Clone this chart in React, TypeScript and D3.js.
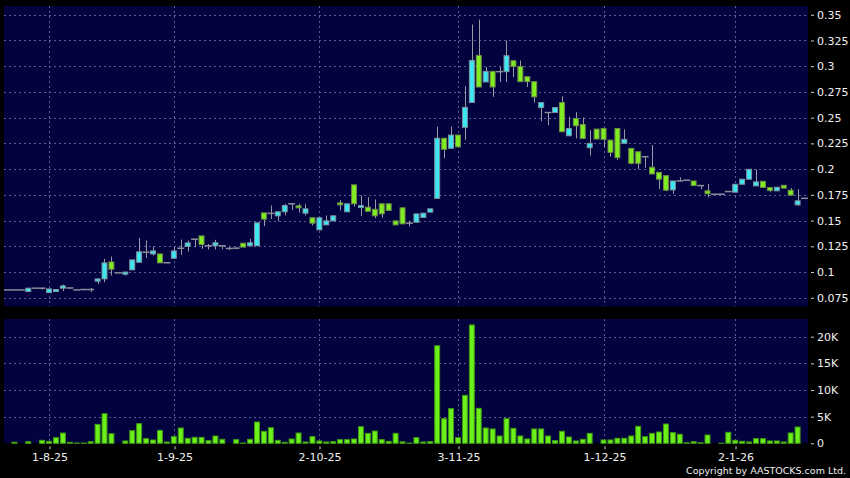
import { useRef, useEffect } from 'react'
import * as d3 from 'd3'

const W = 850
const H = 478
const PRICE_PANEL = { left: 4, right: 808, top: 6, bottom: 306.5 }
const VOL_PANEL = { left: 4, right: 808, top: 319, bottom: 443.3 }

// daily OHLC + volume, oldest first
const OPEN = [
  0.0826, 0.0826, 0.0826, 0.081, 0.0843, 0.0843, 0.08, 0.0817, 0.0843, 0.0845,
  0.0826, 0.083, 0.083, 0.0911, 0.0933, 0.1098, 0.0992, 0.0979, 0.1021, 0.1095,
  0.1192, 0.1176, 0.1176, 0.109, 0.1134, 0.1231, 0.125, 0.1319, 0.1351, 0.1255,
  0.1255, 0.1255, 0.1229, 0.1232, 0.128, 0.1255, 0.1255, 0.1575, 0.157, 0.1546,
  0.1585, 0.1663, 0.1643, 0.1572, 0.1527, 0.141, 0.1458, 0.1497, 0.1672, 0.1585,
  0.1847, 0.1627, 0.163, 0.161, 0.1663, 0.1663, 0.1497, 0.1624, 0.1475, 0.1484,
  0.153, 0.1582, 0.1716, 0.23, 0.2202, 0.2331, 0.2406, 0.2647, 0.3105, 0.2847,
  0.295, 0.2947, 0.2947, 0.3053, 0.2998, 0.2898, 0.285, 0.2598, 0.255, 0.255,
  0.2647, 0.2324, 0.2492, 0.2434, 0.2208, 0.2389, 0.2395, 0.2282, 0.2395, 0.225,
  0.2202, 0.2169, 0.2121, 0.2018, 0.1969, 0.1937, 0.1798, 0.1885, 0.1892, 0.1885,
  0.184, 0.1789, 0.1756, 0.1756, 0.1782, 0.1776, 0.1853, 0.1902, 0.1837, 0.1882,
  0.1821, 0.1789, 0.1843, 0.1795, 0.1653, 0.1716,
]
const CLOSE = [
  0.0826, 0.0826, 0.0826, 0.0843, 0.0843, 0.0843, 0.0836, 0.083, 0.0865, 0.0845,
  0.0826, 0.083, 0.083, 0.0933, 0.1089, 0.1027, 0.0992, 0.1, 0.1118, 0.1196,
  0.1192, 0.1205, 0.1089, 0.109, 0.1205, 0.1231, 0.1283, 0.1319, 0.1267, 0.1255,
  0.1284, 0.1255, 0.1229, 0.1232, 0.1242, 0.1284, 0.1478, 0.1514, 0.157, 0.1585,
  0.1646, 0.1663, 0.1624, 0.1614, 0.1475, 0.1527, 0.1497, 0.1546, 0.1653, 0.1663,
  0.1663, 0.1646, 0.159, 0.1546, 0.1565, 0.1598, 0.1458, 0.1468, 0.1475, 0.1565,
  0.1572, 0.1614, 0.23, 0.2192, 0.2331, 0.2217, 0.26, 0.3056, 0.2798, 0.295,
  0.2798, 0.2947, 0.3102, 0.2998, 0.285, 0.285, 0.2702, 0.2647, 0.255, 0.2598,
  0.2363, 0.2395, 0.2421, 0.2298, 0.225, 0.2292, 0.2289, 0.2163, 0.2111, 0.2289,
  0.2056, 0.2056, 0.2121, 0.1953, 0.1902, 0.1795, 0.1885, 0.1885, 0.1892, 0.184,
  0.184, 0.176, 0.1756, 0.1756, 0.1782, 0.1853, 0.1902, 0.1998, 0.1876, 0.1821,
  0.1792, 0.1824, 0.1815, 0.1747, 0.1692, 0.1716,
]
const HIGH = [
  0.0826, 0.0826, 0.0826, 0.0843, 0.0843, 0.0843, 0.0836, 0.083, 0.0878, 0.0845,
  0.0826, 0.083, 0.0845, 0.094, 0.1128, 0.115, 0.0992, 0.1, 0.1118, 0.1332,
  0.1306, 0.1247, 0.1176, 0.109, 0.1247, 0.1315, 0.1306, 0.1319, 0.1351, 0.1273,
  0.1313, 0.1255, 0.1245, 0.1236, 0.128, 0.1323, 0.1478, 0.1575, 0.1646, 0.1585,
  0.1662, 0.1663, 0.1663, 0.1663, 0.1527, 0.1527, 0.155, 0.1546, 0.17, 0.1663,
  0.1847, 0.1743, 0.1727, 0.1705, 0.1663, 0.1663, 0.1497, 0.1624, 0.15, 0.1565,
  0.1572, 0.1614, 0.2412, 0.23, 0.2412, 0.2331, 0.2807, 0.3405, 0.3453, 0.2992,
  0.295, 0.2992, 0.325, 0.3053, 0.3056, 0.2898, 0.285, 0.2647, 0.255, 0.2598,
  0.2708, 0.2508, 0.2553, 0.2502, 0.2379, 0.2389, 0.2395, 0.2282, 0.2395, 0.2385,
  0.2202, 0.2169, 0.2121, 0.2234, 0.1969, 0.1937, 0.1885, 0.192, 0.1892, 0.1885,
  0.184, 0.1856, 0.1756, 0.1756, 0.1782, 0.1853, 0.1902, 0.1998, 0.1998, 0.1882,
  0.1821, 0.1824, 0.1843, 0.1815, 0.1805, 0.1716,
]
const LOW = [
  0.0826, 0.0826, 0.0826, 0.0807, 0.0843, 0.083, 0.0797, 0.0817, 0.0814, 0.0835,
  0.0826, 0.083, 0.0805, 0.0885, 0.09, 0.0966, 0.0992, 0.0966, 0.1021, 0.1095,
  0.1137, 0.116, 0.1089, 0.109, 0.1134, 0.1167, 0.1199, 0.1241, 0.1225, 0.1219,
  0.1219, 0.1222, 0.1216, 0.1222, 0.1242, 0.1255, 0.1255, 0.1446, 0.1514, 0.1494,
  0.155, 0.1604, 0.1578, 0.155, 0.1452, 0.141, 0.1458, 0.1497, 0.1598, 0.1585,
  0.1637, 0.1543, 0.159, 0.1523, 0.1527, 0.1598, 0.1458, 0.1468, 0.1443, 0.1484,
  0.153, 0.1582, 0.1716, 0.2105, 0.2202, 0.2205, 0.2283, 0.2647, 0.2798, 0.2847,
  0.2702, 0.2847, 0.2847, 0.2895, 0.285, 0.2798, 0.2647, 0.2466, 0.2427, 0.255,
  0.2363, 0.2324, 0.2298, 0.2298, 0.2131, 0.2292, 0.2211, 0.2121, 0.2089, 0.225,
  0.2047, 0.2, 0.2014, 0.1953, 0.1805, 0.1785, 0.176, 0.1885, 0.1892, 0.184,
  0.1805, 0.1727, 0.1756, 0.1756, 0.1782, 0.1776, 0.1853, 0.1902, 0.1837, 0.1821,
  0.1776, 0.1789, 0.1815, 0.1747, 0.1643, 0.1716,
]
const VOLUME = [
  0, 200, 0, 300, 0, 560, 370, 1060, 1930, 190,
  50, 50, 300, 3550, 5550, 1800, 0, 440, 2370, 3680,
  870, 620, 2430, 250, 1250, 2870, 935, 1120, 1120, 500,
  1370, 750, 0, 690, 60, 750, 3990, 2240, 2930, 560,
  190, 810, 1930, 250, 1250, 440, 250, 310, 690, 690,
  810, 3120, 1870, 2300, 690, 370, 1870, 280, 50, 1060,
  250, 310, 18300, 4620, 6500, 1060, 9000, 22200, 6560, 2870,
  2690, 1370, 4620, 2810, 1370, 810, 2690, 2690, 1370, 500,
  2250, 1190, 440, 750, 1870, 0, 625, 625, 940, 940,
  1370, 3190, 1250, 1870, 2120, 3620, 2000, 1690, 100, 300,
  100, 1560, 0, 30, 2060, 560, 375, 250, 875, 875,
  440, 440, 250, 1940, 3060, 0,
]

const DATE_TICKS = [6, 24, 45, 65, 86, 105]
const DATE_LABELS = ['1-8-25', '1-9-25', '2-10-25', '3-11-25', '1-12-25', '2-1-26']
const PRICE_TICKS = [0.075, 0.1, 0.125, 0.15, 0.175, 0.2, 0.225, 0.25, 0.275, 0.3, 0.325, 0.35]
const PRICE_LABELS = ['0.075', '0.1', '0.125', '0.15', '0.175', '0.2', '0.225', '0.25', '0.275', '0.3', '0.325', '0.35']
const VOL_TICKS = [0, 5000, 10000, 15000, 20000]
const VOL_LABELS = ['0', '5K', '10K', '15K', '20K']

const FONT = 'DejaVu Sans, Verdana, sans-serif'
const UP = '#3ee6f2'
const DOWN = '#80ec22'
const GRID = '#5c5c92'

export default function App() {
  const svgRef = useRef<SVGSVGElement>(null)

  useEffect(() => {
    if (!svgRef.current) return
    const svg = d3.select(svgRef.current)
    svg.selectAll('*').remove()

    const idx = d3.range(OPEN.length)
    const x = d3.scaleBand<number>().domain(idx).range([PRICE_PANEL.left, PRICE_PANEL.right])
      .paddingInner(0.14).paddingOuter(0.07)
    const bw = x.bandwidth()
    const step = x.step()
    const cx = (i: number) => (x(i) ?? 0) + bw / 2

    const y = d3.scaleLinear().domain([0.0665, 0.3585]).range([PRICE_PANEL.bottom, PRICE_PANEL.top])
    const vy = d3.scaleLinear().domain([0, 23320]).range([VOL_PANEL.bottom, VOL_PANEL.top])

    svg.append('rect').attr('width', W).attr('height', H).attr('fill', '#000')

    for (const p of [PRICE_PANEL, VOL_PANEL]) {
      svg.append('rect')
        .attr('x', p.left).attr('y', p.top)
        .attr('width', p.right - p.left).attr('height', p.bottom - p.top)
        .attr('fill', '#02023f')
    }

    // horizontal grid
    svg.append('g').selectAll('line').data(PRICE_TICKS).join('line')
      .attr('x1', PRICE_PANEL.left).attr('x2', PRICE_PANEL.right)
      .attr('y1', (d) => Math.round(y(d)) + 0.5).attr('y2', (d) => Math.round(y(d)) + 0.5)
      .attr('stroke', GRID).attr('stroke-dasharray', '2,3')
    svg.append('g').selectAll('line').data(VOL_TICKS.filter((d) => d > 0)).join('line')
      .attr('x1', VOL_PANEL.left).attr('x2', VOL_PANEL.right)
      .attr('y1', (d) => Math.round(vy(d)) + 0.5).attr('y2', (d) => Math.round(vy(d)) + 0.5)
      .attr('stroke', GRID).attr('stroke-dasharray', '2,3')

    // vertical grid
    for (const p of [PRICE_PANEL, VOL_PANEL]) {
      svg.append('g').selectAll('line').data(DATE_TICKS).join('line')
        .attr('x1', (d) => Math.round(cx(d)) + 0.5).attr('x2', (d) => Math.round(cx(d)) + 0.5)
        .attr('y1', p.top).attr('y2', p.bottom)
        .attr('stroke', GRID).attr('stroke-dasharray', '2,3')
    }

    // candles
    const g = svg.append('g')
    idx.forEach((i) => {
      const o = OPEN[i], c = CLOSE[i], h = HIGH[i], l = LOW[i]
      const mx = Math.round(cx(i)) + 0.5
      if (h > l) {
        g.append('line').attr('x1', mx).attr('x2', mx).attr('y1', y(h)).attr('y2', y(l))
          .attr('stroke', '#9a9aa6').attr('stroke-width', 1)
      }
      if (o === c) {
        const x0 = (x(i) ?? 0) - (step - bw) / 2
        g.append('line').attr('x1', x0).attr('x2', x0 + step)
          .attr('y1', y(o)).attr('y2', y(o))
          .attr('stroke', '#8e8e9a').attr('stroke-width', 1.5)
      } else {
        const top = y(Math.max(o, c)), bot = y(Math.min(o, c))
        g.append('rect')
          .attr('x', (x(i) ?? 0) + 0.5).attr('width', bw - 1)
          .attr('y', top).attr('height', Math.max(bot - top, 2))
          .attr('fill', c > o ? UP : DOWN)
          .attr('stroke', c > o ? '#7f929c' : '#6c8c46').attr('stroke-width', 1)
      }
    })

    // volume
    svg.append('g').selectAll('rect').data(idx.filter((i) => VOLUME[i] > 0)).join('rect')
      .attr('x', (i) => (x(i) ?? 0) + 0.5).attr('width', bw - 1)
      .attr('y', (i) => vy(VOLUME[i])).attr('height', (i) => VOL_PANEL.bottom - vy(VOLUME[i]))
      .attr('fill', '#6cf01a').attr('stroke', '#3f9a12').attr('stroke-width', 1)

    // right axes
    svg.append('g').attr('transform', `translate(${PRICE_PANEL.right + 3},0)`)
      .call(d3.axisRight(y).tickValues(PRICE_TICKS).tickSize(3).tickPadding(3)
        .tickFormat((_, k) => PRICE_LABELS[k]))
      .call((a) => {
        a.select('.domain').remove()
        a.selectAll('line').attr('stroke', '#cfcfcf')
        a.selectAll('text').attr('fill', '#f0f0f0').attr('font-size', '11px').attr('font-family', FONT)
      })
    svg.append('g').attr('transform', `translate(${VOL_PANEL.right + 3},0)`)
      .call(d3.axisRight(vy).tickValues(VOL_TICKS).tickSize(3).tickPadding(3)
        .tickFormat((_, k) => VOL_LABELS[k]))
      .call((a) => {
        a.select('.domain').remove()
        a.selectAll('line').attr('stroke', '#cfcfcf')
        a.selectAll('text').attr('fill', '#f0f0f0').attr('font-size', '11px').attr('font-family', FONT)
      })

    // date axis
    const xa = d3.scaleLinear().domain([0, 1]).range([0, 1])
    svg.append('g').attr('transform', `translate(0,${VOL_PANEL.bottom + 3})`)
      .call(d3.axisBottom(xa).tickValues(DATE_TICKS.map((d) => Math.round(cx(d)) + 0.5)).tickSize(3).tickPadding(4)
        .tickFormat((_, k) => DATE_LABELS[k]))
      .call((a) => {
        a.select('.domain').remove()
        a.selectAll('line').attr('stroke', '#cfcfcf')
        a.selectAll('text').attr('fill', '#f0f0f0').attr('font-size', '11px').attr('font-family', FONT)
      })

    svg.append('text')
      .attr('x', 846).attr('y', 474)
      .attr('text-anchor', 'end')
      .attr('fill', '#f0f0f0').attr('font-size', '9.5px').attr('font-family', FONT)
      .text('Copyright by AASTOCKS.com Ltd.')
  }, [])

  return (
    <svg ref={svgRef} width={W} height={H}
      style={{ position: 'absolute', left: 0, top: 0, display: 'block' }} />
  )
}
